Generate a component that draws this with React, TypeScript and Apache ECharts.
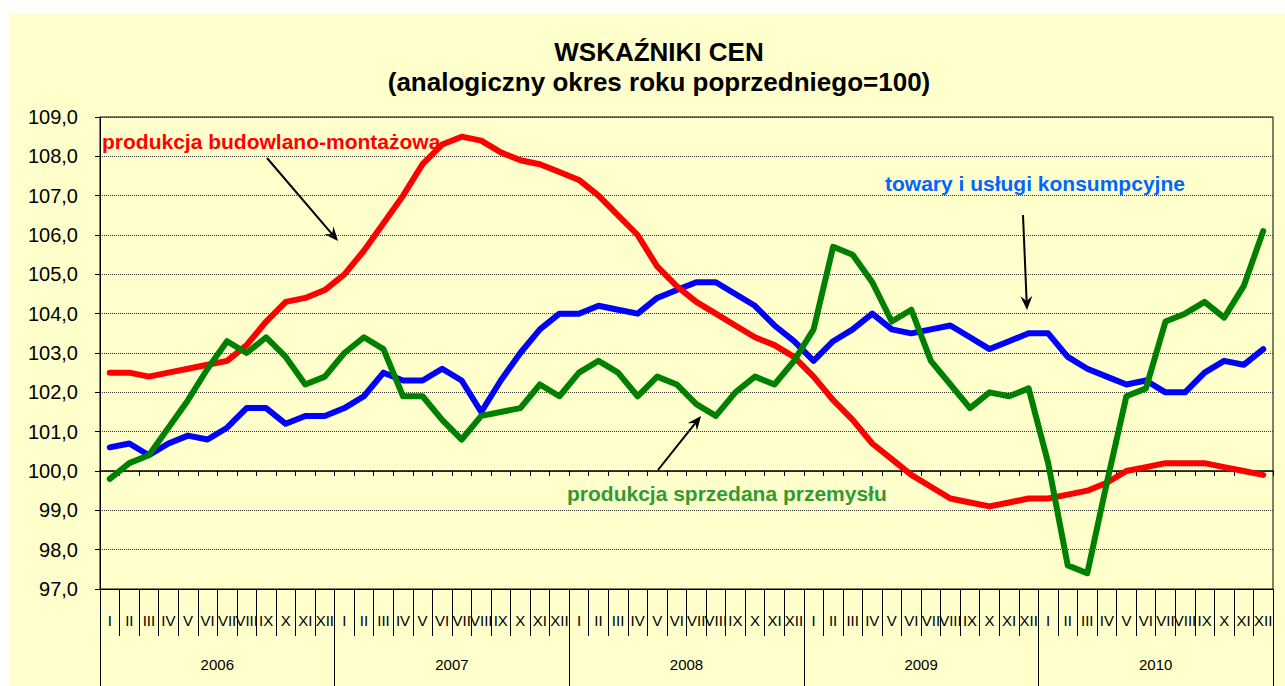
import React, { useEffect, useRef } from "react";
import * as echarts from "echarts";

// ---- data ----
const YEARS = ["2006", "2007", "2008", "2009", "2010"];
const MONTHS = ["I", "II", "III", "IV", "V", "VI", "VII", "VIII", "IX", "X", "XI", "XII"];
const Y_MIN = 97;
const Y_MAX = 109;
const Y_STEP = 1;
const BASE_LINE = 100;

const TITLE_1 = "WSKAŹNIKI CEN";
const TITLE_2 = "(analogiczny okres roku poprzedniego=100)";

const NAME_BUDOWLANA = "produkcja budowlano-montażowa";
const NAME_KONSUMPCYJNE = "towary i usługi konsumpcyjne";
const NAME_PRZEMYSL = "produkcja sprzedana przemysłu";

const budowlana = [
  102.5, 102.5, 102.4, 102.5, 102.6, 102.7, 102.8, 103.2, 103.8, 104.3, 104.4, 104.6,
  105.0, 105.6, 106.3, 107.0, 107.8, 108.3, 108.5, 108.4, 108.1, 107.9, 107.8, 107.6,
  107.4, 107.0, 106.5, 106.0, 105.2, 104.7, 104.3, 104.0, 103.7, 103.4, 103.2, 102.9,
  102.4, 101.8, 101.3, 100.7, 100.3, 99.9, 99.6, 99.3, 99.2, 99.1, 99.2, 99.3,
  99.3, 99.4, 99.5, 99.7, 100.0, 100.1, 100.2, 100.2, 100.2, 100.1, 100.0, 99.9,
];

const konsumpcyjne = [
  100.6, 100.7, 100.4, 100.7, 100.9, 100.8, 101.1, 101.6, 101.6, 101.2, 101.4, 101.4,
  101.6, 101.9, 102.5, 102.3, 102.3, 102.6, 102.3, 101.5, 102.3, 103.0, 103.6, 104.0,
  104.0, 104.2, 104.1, 104.0, 104.4, 104.6, 104.8, 104.8, 104.5, 104.2, 103.7, 103.3,
  102.8, 103.3, 103.6, 104.0, 103.6, 103.5, 103.6, 103.7, 103.4, 103.1, 103.3, 103.5,
  103.5, 102.9, 102.6, 102.4, 102.2, 102.3, 102.0, 102.0, 102.5, 102.8, 102.7, 103.1,
];

const przemysl = [
  99.8, 100.2, 100.4, 101.1, 101.8, 102.6, 103.3, 103.0, 103.4, 102.9, 102.2, 102.4,
  103.0, 103.4, 103.1, 101.9, 101.9, 101.3, 100.8, 101.4, 101.5, 101.6, 102.2, 101.9,
  102.5, 102.8, 102.5, 101.9, 102.4, 102.2, 101.7, 101.4, 102.0, 102.4, 102.2, 102.8,
  103.6, 105.7, 105.5, 104.8, 103.8, 104.1, 102.8, 102.2, 101.6, 102.0, 101.9, 102.1,
  100.2, 97.6, 97.4, 99.7, 101.9, 102.1, 103.8, 104.0, 104.3, 103.9, 104.7, 106.1,
];

const categories = YEARS.flatMap(() => MONTHS);

// ---- layout ----
const W = 1285;
const H = 686;
const GRID = { left: 100, right: 12, top: 117, bottom: 97 };
const FONT = "Arial, 'Liberation Sans', sans-serif";

function arrow(x1: number, y1: number, x2: number, y2: number) {
  const dx = x2 - x1;
  const dy = y2 - y1;
  const len = Math.sqrt(dx * dx + dy * dy);
  const ux = dx / len;
  const uy = dy / len;
  const L = 14;
  const Wd = 6;
  const bx = x2 - ux * L;
  const by = y2 - uy * L;
  const nx = x2 - ux * L * 0.65;
  const ny = y2 - uy * L * 0.65;
  const px = -uy;
  const py = ux;
  return {
    type: "group",
    children: [
      {
        type: "line",
        shape: { x1, y1, x2: nx, y2: ny },
        style: { stroke: "#000", lineWidth: 2 },
      },
      {
        type: "polygon",
        shape: {
          points: [
            [x2, y2],
            [bx + px * Wd, by + py * Wd],
            [nx, ny],
            [bx - px * Wd, by - py * Wd],
          ],
        },
        style: { fill: "#000" },
      },
    ],
  };
}

export default function App() {
  const ref = useRef<HTMLDivElement>(null);

  useEffect(() => {
    if (!ref.current) return;
    const chart = echarts.init(ref.current, null, { renderer: "svg", width: W, height: H });
    const plotH = H - GRID.top - GRID.bottom;
    const baseOffset = -(plotH * (BASE_LINE - Y_MIN)) / (Y_MAX - Y_MIN);

    const lineSeries = (name: string, data: number[], color: string) => ({
      name,
      type: "line",
      data,
      xAxisIndex: 0,
      yAxisIndex: 0,
      symbol: "none",
      smooth: false,
      lineStyle: { color, width: 6, cap: "round", join: "round" },
      itemStyle: { color },
    });

    const option: any = {
      animation: false,
      backgroundColor: "transparent",
      textStyle: { fontFamily: FONT },
      grid: {
        ...GRID,
        show: true,
        borderColor: "#000",
        borderWidth: 1,
        backgroundColor: "transparent",
        containLabel: false,
      },
      xAxis: [
        {
          type: "category",
          data: categories,
          position: "bottom",
          boundaryGap: true,
          axisLine: { show: true, lineStyle: { color: "#000", width: 1 } },
          axisTick: { show: true, interval: 0, length: 47, lineStyle: { color: "#000" } },
          axisLabel: { interval: 0, fontSize: 15, color: "#000", margin: 24, fontFamily: FONT },
          splitLine: { show: false },
        },
        {
          type: "category",
          data: YEARS,
          position: "bottom",
          boundaryGap: true,
          axisLine: { show: false },
          axisTick: { show: true, interval: 0, length: 97, lineStyle: { color: "#000" } },
          axisLabel: { interval: 0, fontSize: 15, color: "#000", margin: 68, fontFamily: FONT },
          splitLine: { show: false },
        },
        {
          type: "category",
          data: categories,
          position: "bottom",
          offset: baseOffset,
          boundaryGap: true,
          axisLine: { show: true, lineStyle: { color: "#000", width: 1.5 } },
          axisTick: { show: true, interval: 0, length: 5, lineStyle: { color: "#000" } },
          axisLabel: { show: false },
          splitLine: { show: false },
        },
      ],
      yAxis: {
        type: "value",
        min: Y_MIN,
        max: Y_MAX,
        interval: Y_STEP,
        axisLine: { show: true, lineStyle: { color: "#000" } },
        axisTick: { show: true, length: 5, lineStyle: { color: "#000" } },
        axisLabel: {
          fontSize: 20,
          color: "#000",
          margin: 22,
          fontFamily: FONT,
          formatter: (v: number) => v.toFixed(1).replace(".", ","),
        },
        splitLine: { show: true, lineStyle: { color: "#333", type: "dotted", width: 1 } },
      },
      series: [
        lineSeries(NAME_KONSUMPCYJNE, konsumpcyjne, "#0000FF"),
        lineSeries(NAME_BUDOWLANA, budowlana, "#FF0000"),
        lineSeries(NAME_PRZEMYSL, przemysl, "#008000"),
      ],
      graphic: [
        {
          type: "rect",
          z: -100,
          silent: true,
          shape: { x: 9, y: 13, width: W - 9, height: H - 13 },
          style: { fill: "#FFFFCC" },
        },
        {
          type: "text",
          x: 659,
          y: 52,
          style: { text: TITLE_1, fill: "#000", font: `bold 26px ${FONT}`, align: "center", verticalAlign: "middle" },
        },
        {
          type: "text",
          x: 659,
          y: 82,
          style: { text: TITLE_2, fill: "#000", font: `bold 26px ${FONT}`, align: "center", verticalAlign: "middle" },
        },
        {
          type: "text",
          x: 102,
          y: 141,
          z: 10,
          style: { text: NAME_BUDOWLANA, fill: "#FF0000", font: `bold 21px ${FONT}`, align: "left", verticalAlign: "middle" },
        },
        {
          type: "text",
          x: 885,
          y: 183,
          z: 10,
          style: { text: NAME_KONSUMPCYJNE, fill: "#0066FF", font: `bold 21px ${FONT}`, align: "left", verticalAlign: "middle" },
        },
        {
          type: "text",
          x: 567,
          y: 493,
          z: 10,
          style: { text: NAME_PRZEMYSL, fill: "#339933", font: `bold 21px ${FONT}`, align: "left", verticalAlign: "middle" },
        },
        { ...arrow(267, 158, 338, 241), z: 10 },
        { ...arrow(1023, 215, 1027, 310), z: 10 },
        { ...arrow(658, 470, 701, 416), z: 10 },
      ],
    };

    chart.setOption(option);
    return () => chart.dispose();
  }, []);

  return (
    <div style={{ position: "absolute", left: 0, top: 0, width: W, height: H, background: "#fff" }}>
      <div ref={ref} style={{ width: W, height: H }} />
    </div>
  );
}
